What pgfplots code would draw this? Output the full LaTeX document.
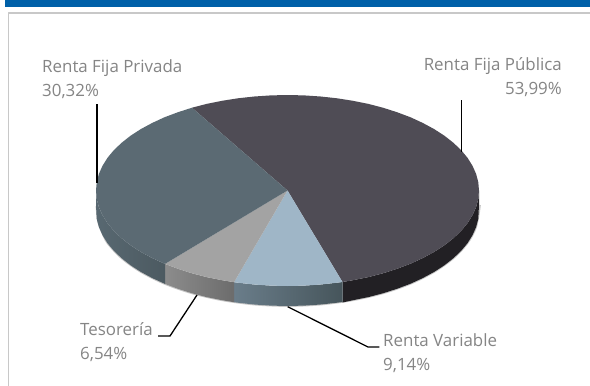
\documentclass[border=0pt]{standalone}
\usepackage{pgfplots}
\pgfplotsset{compat=1.18}
\usepackage{fontspec}
\setmainfont{Open Sans}
\definecolor{band}{HTML}{0060A8}
\definecolor{frame}{HTML}{C8C8C8}
\definecolor{lab}{HTML}{858585}
\definecolor{pub}{HTML}{4F4C55}
\definecolor{priv}{HTML}{5B6A73}
\definecolor{tes}{HTML}{A3A3A3}
\definecolor{var}{HTML}{9FB6C7}
\definecolor{pubwall}{HTML}{222024}
\begin{document}
\begin{tikzpicture}
\begin{axis}[
  scale only axis, width=590pt, height=386pt,
  xmin=0, xmax=590, ymin=0, ymax=386, y dir=reverse,
  hide axis, clip=true,
  every axis plot/.append style={no markers, line join=round},
]
% background, band, frame
\addplot[draw=none, fill=white] coordinates {(0,0)(590,0)(590,386)(0,386)} -- cycle;
\addplot[draw=none, fill=band] coordinates {(5,0)(590,0)(590,7)(5,7)} -- cycle;
\addplot[draw=frame, line width=1.6pt] coordinates {(8.5,386)(8.5,13)(590,13)};
% soft shadow under the rim
\addplot[draw=black, opacity=0.22, line width=1.8pt, smooth] coordinates {(96.5,206)(98,221)(102,232)(107.5,243.2)(121.7,258.3)(140.8,271.9)(164.4,283.7)(191.7,293.2)(222,300.2)(254.3,304.5)(287.5,306)(320.7,304.5)(353,300.2)(383.3,293.2)(410.6,283.7)(434.2,271.9)(453.3,258.3)(467.5,243.2)(476.1,227.1)(480,205)};
% side walls
\addplot[draw=none, fill=pubwall] coordinates {
(479.0,190.5)(478.3,198.8)(476.1,207.1)(472.5,215.2)(467.5,223.2)(461.1,230.9)(453.3,238.3)(444.4,245.3)(434.2,251.9)(422.9,258.0)(410.6,263.7)(397.3,268.7)(383.3,273.2)(368.4,277.1)(353.0,280.2)(342.5,282.0)
(342.5,302.5)(353.0,300.2)(368.4,297.1)(383.3,293.2)(397.3,288.7)(410.6,283.7)(422.9,278.0)(434.2,271.9)(444.4,265.3)(453.3,258.3)(461.1,250.9)(467.5,243.2)(472.5,235.2)(476.1,227.1)(478.3,218.8)(479.0,205)} -- cycle;
\addplot[draw=none, left color={rgb,255:red,106;green,125;blue,138}, right color={rgb,255:red,70;green,85;blue,91}] coordinates {
(342.5,282.0)(337.1,282.7)(320.7,284.5)(304.2,285.6)(287.5,286.0)(270.8,285.6)(254.3,284.5)(237.9,282.7)(234.1,282.2)
(234.1,302.2)(237.9,302.7)(254.3,304.5)(270.8,305.6)(287.5,306.0)(304.2,305.6)(320.7,304.5)(337.1,302.7)(342.5,302.0)} -- cycle;
\addplot[draw=none, left color={rgb,255:red,140;green,140;blue,140}, right color={rgb,255:red,108;green,108;blue,108}] coordinates {
(234.1,282.2)(222.0,280.2)(206.6,277.1)(191.7,273.2)(177.7,268.7)(165.0,263.9)
(165.0,283.9)(177.7,288.7)(191.7,293.2)(206.6,297.1)(222.0,300.2)(234.1,302.2)} -- cycle;
\addplot[draw=none, left color={rgb,255:red,88;green,104;blue,113}, right color={rgb,255:red,76;green,90;blue,97}] coordinates {
(165.0,263.9)(152.1,258.0)(140.8,251.9)(130.6,245.3)(121.7,238.3)(113.9,230.9)(107.5,223.2)(102.5,215.2)(98.9,207.1)(96.7,198.8)(96.0,190.5)
(96.0,205)(96.7,218.8)(98.9,227.1)(102.5,235.2)(107.5,243.2)(113.9,250.9)(121.7,258.3)(130.6,265.3)(140.8,271.9)(152.1,278.0)(165.0,283.9)} -- cycle;
% top slices
\addplot[draw=none, fill=pub] coordinates {
(287.5,190.5)(192.0,107.7)(206.6,103.9)(222.0,100.8)(237.9,98.3)(254.3,96.5)(270.8,95.4)(287.5,95.0)(304.2,95.4)(320.7,96.5)(337.1,98.3)(353.0,100.8)(368.4,103.9)(383.3,107.8)(397.3,112.3)(410.6,117.3)(422.9,123.0)(434.2,129.1)(444.4,135.7)(453.3,142.7)(461.1,150.1)(467.5,157.8)(472.5,165.8)(476.1,173.9)(478.3,182.2)(479.0,190.5)(478.3,198.8)(476.1,207.1)(472.5,215.2)(467.5,223.2)(461.1,230.9)(453.3,238.3)(444.4,245.3)(434.2,251.9)(422.9,258.0)(410.6,263.7)(397.3,268.7)(383.3,273.2)(368.4,277.1)(353.0,280.2)(342.5,282.0)} -- cycle;
\addplot[draw=none, fill=var] coordinates {
(287.5,190.5)(342.5,282.0)(337.1,282.7)(320.7,284.5)(304.2,285.6)(287.5,286.0)(270.8,285.6)(254.3,284.5)(237.9,282.7)(234.1,282.2)} -- cycle;
\addplot[draw=none, fill=tes] coordinates {
(287.5,190.5)(234.1,282.2)(222.0,280.2)(206.6,277.1)(191.7,273.2)(177.7,268.7)(165.0,263.9)} -- cycle;
\addplot[draw=none, fill=priv] coordinates {
(287.5,190.5)(165.0,263.9)(152.1,258.0)(140.8,251.9)(130.6,245.3)(121.7,238.3)(113.9,230.9)(107.5,223.2)(102.5,215.2)(98.9,207.1)(96.7,198.8)(96.0,190.5)(96.7,182.2)(98.9,173.9)(102.5,165.8)(107.5,157.8)(113.9,150.1)(121.7,142.7)(130.6,135.7)(140.8,129.1)(152.1,123.0)(164.4,117.3)(177.7,112.3)(192.0,107.7)} -- cycle;
% leader lines
\addplot[draw=black, line width=1.3pt] coordinates {(97,104)(97,183)};
\addplot[draw=black, line width=1.3pt] coordinates {(461.7,100)(461.7,152)};
\addplot[draw=black, line width=1.3pt] coordinates {(158,336)(170,336)(197,295)};
\addplot[draw=black, line width=1.3pt] coordinates {(379.3,347)(368,347)(287.7,306.7)};
% labels
\tikzset{lbl/.style={inner sep=0pt, text=lab, font=\fontsize{16.9}{19}\selectfont}}
\node[lbl, anchor=base west] at (axis cs:42,72.5) {Renta Fija Privada};
\node[lbl, anchor=base west] at (axis cs:42,96.5) {30,32\%};
\node[lbl, anchor=base east] at (axis cs:562,70) {Renta Fija Pública};
\node[lbl, anchor=base east] at (axis cs:562,94) {53,99\%};
\node[lbl, anchor=base west] at (axis cs:80,335) {Tesorería};
\node[lbl, anchor=base west] at (axis cs:80,359) {6,54\%};
\node[lbl, anchor=base west] at (axis cs:383,346.5) {Renta Variable};
\node[lbl, anchor=base west] at (axis cs:383,370) {9,14\%};
\end{axis}
\end{tikzpicture}
\end{document}
